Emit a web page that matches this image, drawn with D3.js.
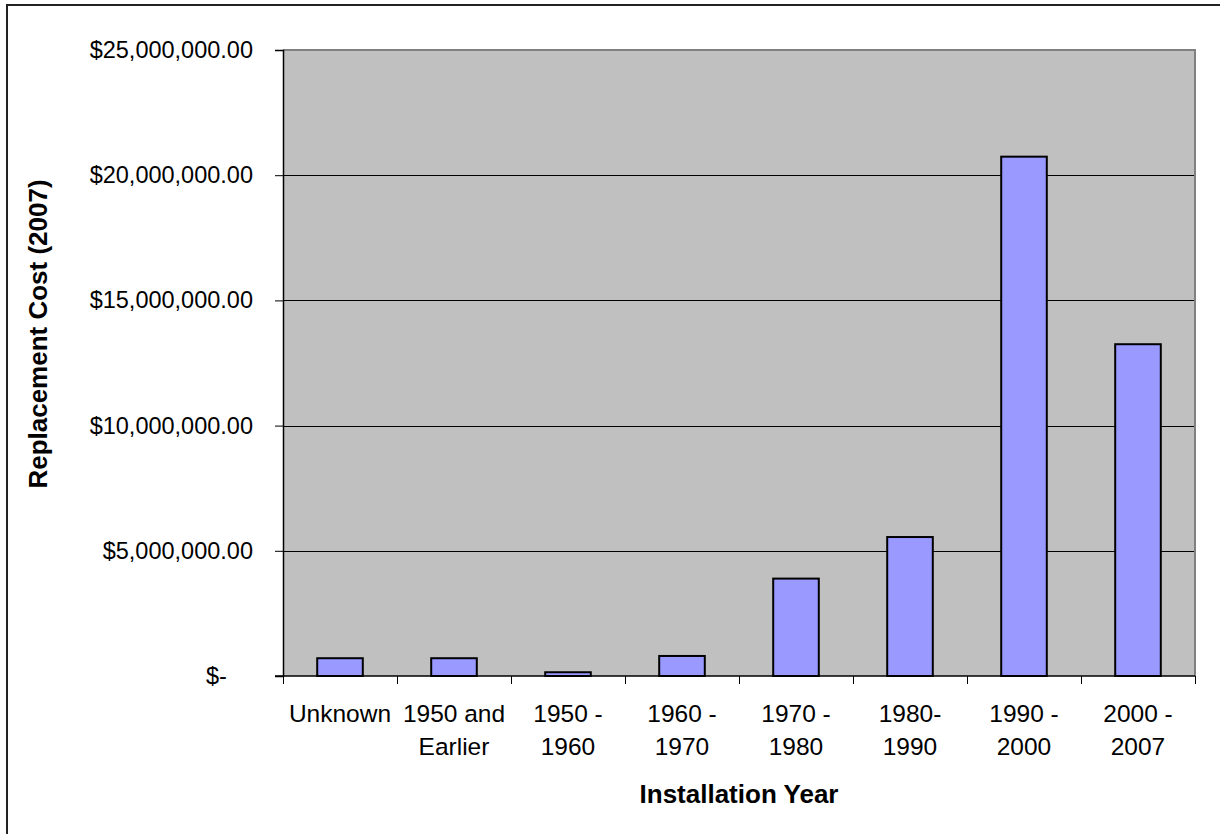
<!DOCTYPE html>
<html>
<head>
<meta charset="utf-8">
<script src="https://cdn.jsdelivr.net/npm/d3@7"></script>
<style>
  html, body { margin: 0; padding: 0; background: #fff; }
  svg { display: block; }
  text { font-family: Arial, "Liberation Sans", sans-serif; fill: #000; }
</style>
</head>
<body>
<svg id="chart" width="1220" height="834"></svg>
<script>
// Replacement cost by installation year
const categories = [
  ["Unknown"],
  ["1950 and", "Earlier"],
  ["1950 -", "1960"],
  ["1960 -", "1970"],
  ["1970 -", "1980"],
  ["1980-", "1990"],
  ["1990 -", "2000"],
  ["2000 -", "2007"]
];
const costs = [710000, 710000, 150000, 800000, 3890000, 5550000, 20740000, 13250000];
const yTicks = [0, 5000000, 10000000, 15000000, 20000000, 25000000];

const svg = d3.select("#chart");
const plot = { left: 283, right: 1195, top: 50, bottom: 676 };

// Outer chart frame
svg.append("rect")
  .attr("x", 7).attr("y", 5)
  .attr("width", 1400).attr("height", 1000)
  .attr("fill", "#fff").attr("stroke", "#222").attr("stroke-width", 2);

const x = d3.scaleBand()
  .domain(d3.range(categories.length))
  .range([plot.left, plot.right])
  .paddingInner(0.6).paddingOuter(0.3);

const xOuter = d3.scaleBand()
  .domain(d3.range(categories.length))
  .range([plot.left, plot.right]);

const y = d3.scaleLinear().domain([0, 25000000]).range([plot.bottom, plot.top]);

// Plot background
svg.append("rect")
  .attr("x", plot.left).attr("y", plot.top)
  .attr("width", plot.right - plot.left).attr("height", plot.bottom - plot.top)
  .attr("fill", "#c0c0c0");

// Gridlines
svg.append("g")
  .selectAll("line")
  .data(yTicks.filter(d => d > 0 && d < 25000000))
  .join("line")
  .attr("x1", plot.left).attr("x2", plot.right)
  .attr("y1", d => Math.round(y(d)) + 0.5).attr("y2", d => Math.round(y(d)) + 0.5)
  .attr("stroke", "#000").attr("stroke-width", 1);

// Plot border (top and right)
svg.append("path")
  .attr("d", `M${plot.left},${plot.top}H${plot.right}V${plot.bottom}`)
  .attr("fill", "none").attr("stroke", "#808080").attr("stroke-width", 2);

// Bars
svg.append("g")
  .selectAll("rect")
  .data(costs)
  .join("rect")
  .attr("x", (d, i) => x(i))
  .attr("width", x.bandwidth())
  .attr("y", d => y(d))
  .attr("height", d => y(0) - y(d))
  .attr("fill", "#9999ff")
  .attr("stroke", "#000")
  .attr("stroke-width", 2);

// Y axis (accounting format: zero shown as a dash aligned before the decimals)
const fmt = d => d === 0 ? "$-" : "$" + d3.format(",.2f")(d);
const yAxis = svg.append("g")
  .attr("transform", `translate(${plot.left},0)`)
  .call(d3.axisLeft(y).tickValues(yTicks).tickFormat(fmt).tickSize(8).tickPadding(22));
yAxis.select(".domain").attr("stroke", "#000").attr("stroke-width", 1.5);
yAxis.selectAll(".tick line").attr("stroke", "#000");
yAxis.selectAll(".tick text")
  .attr("font-size", 23.5).attr("font-family", "Arial, 'Liberation Sans', sans-serif").attr("fill", "#000")
  .attr("dx", d => d === 0 ? "-1.11em" : null);

// X axis: ticks at band boundaries
const xAxisG = svg.append("g");
xAxisG.append("line")
  .attr("x1", plot.left - 8).attr("x2", plot.right)
  .attr("y1", plot.bottom).attr("y2", plot.bottom)
  .attr("stroke", "#000").attr("stroke-width", 1.5);
const boundaries = d3.range(categories.length).map(i => xOuter(i)).concat([plot.right]);
xAxisG.selectAll("line.tick")
  .data(boundaries)
  .join("line")
  .attr("class", "tick")
  .attr("x1", d => Math.round(d) + 0.5).attr("x2", d => Math.round(d) + 0.5)
  .attr("y1", plot.bottom).attr("y2", plot.bottom + 8)
  .attr("stroke", "#000").attr("stroke-width", 1);

// Category labels
const labels = svg.append("g").selectAll("text")
  .data(categories)
  .join("text")
  .attr("text-anchor", "middle")
  .attr("font-size", 24.5)
  .attr("x", (d, i) => xOuter(i) + xOuter.bandwidth() / 2)
  .attr("y", 722);
labels.selectAll("tspan")
  .data(d => d)
  .join("tspan")
  .attr("x", function () { return d3.select(this.parentNode).attr("x"); })
  .attr("dy", (d, i) => i === 0 ? 0 : 33)
  .text(d => d);

// Axis titles
svg.append("text")
  .attr("x", (plot.left + plot.right) / 2)
  .attr("y", 803)
  .attr("text-anchor", "middle")
  .attr("font-size", 26)
  .attr("font-weight", "bold")
  .text("Installation Year");

svg.append("text")
  .attr("transform", `translate(47,334) rotate(-90)`)
  .attr("text-anchor", "middle")
  .attr("font-size", 26)
  .attr("font-weight", "bold")
  .text("Replacement Cost (2007)");
</script>
</body>
</html>
